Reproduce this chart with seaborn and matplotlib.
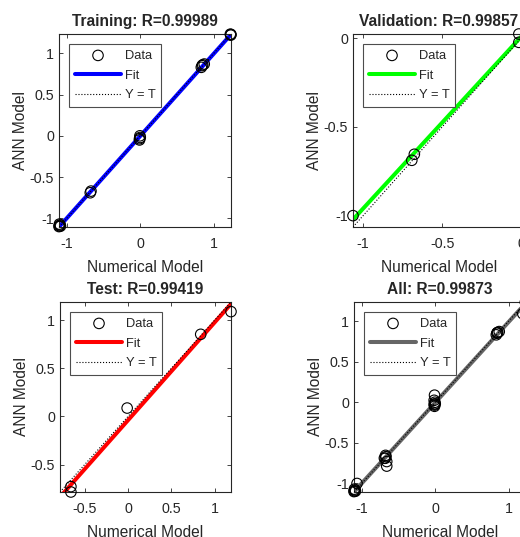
import numpy as np
import seaborn as sns
from matplotlib import pyplot as plt
from matplotlib.ticker import FormatStrFormatter

# numerical model (targets) and ANN model (outputs)
train_t = [-1.105, -1.10, -1.09, -1.10, -1.085, -0.68, -0.67, -0.01, 0.0, -0.005, -0.01,
           0.83, 0.85, 0.87, 0.84, 1.234, 1.225, 1.23]
train_y = [-1.10, -1.09, -1.08, -1.07, -1.095, -0.69, -0.67, -0.05, -0.02, 0.0, -0.035,
           0.83, 0.86, 0.87, 0.85, 1.228, 1.232, 1.22]
val_t = [-1.064, -0.676, -0.692, -0.015, -0.015]
val_y = [-1.0, -0.654, -0.688, 0.024, -0.023]
test_t = [-0.66, -0.66, -0.01, 0.84, 1.19]
test_y = [-0.73, -0.786, 0.087, 0.854, 1.09]
all_t = train_t + val_t + test_t
all_y = train_y + val_y + test_y

names = ['Training', 'Validation', 'Test', 'All']
r_values = ['0.99989', '0.99857', '0.99419', '0.99873']
fit_colors = ['#0000ff', '#00ff00', '#ff0000', '#666666']
xticks = [[-1, 0, 1], [-1, -0.5, 0], [-0.5, 0, 0.5, 1], [-1, 0, 1]]
yticks = [[-1, -0.5, 0, 0.5, 1], [-1, -0.5, 0], [-0.5, 0, 0.5, 1], [-1, -0.5, 0, 0.5, 1]]

sns.set_style("ticks")
plt.rcParams['font.family'] = ['Liberation Sans', 'DejaVu Sans']
plt.rcParams['axes.unicode_minus'] = False

W, H = 520, 537
fig = plt.figure(figsize=(W / 100, H / 100), dpi=100, facecolor='white')

# axes boxes in pixels: left, top, width, height (right column runs past the crop)
boxes = [(59, 34, 172, 193), (353, 34, 172, 193), (60, 302, 171, 190), (354, 302, 172, 190)]
data = [(train_t, train_y), (val_t, val_y), (test_t, test_y), (all_t, all_y)]


def regpanel(ax, t, y, name, r, color, xt, yt):
    t = np.array(t)
    y = np.array(y)
    lim = [min(t.min(), y.min()), max(t.max(), y.max())]
    ax.set_xlim(lim)
    ax.set_ylim(lim)
    sns.scatterplot(x=t, y=y, ax=ax, marker='o', s=57, facecolor='none',
                    edgecolor='black', linewidth=0.8, label='Data', zorder=3,
                    clip_on=False)
    sns.regplot(x=t, y=y, ax=ax, scatter=False, ci=None, truncate=False,
                color=color, label='Fit', line_kws=dict(lw=2.9, zorder=2))
    ax.plot(lim, lim, ':', color='black', lw=0.8, label='Y = T', zorder=4)
    ax.set_xlim(lim)
    ax.set_ylim(lim)

    ax.set_xticks(xt)
    ax.set_yticks(yt)
    ax.xaxis.set_major_formatter(FormatStrFormatter('%g'))
    ax.yaxis.set_major_formatter(FormatStrFormatter('%g'))
    ax.tick_params(direction='in', length=3, width=0.6, top=True, right=True,
                   labelsize=10.3, colors='#262626')
    ax.tick_params(axis='x', pad=7.5)
    ax.tick_params(axis='y', pad=3.5)
    for sp in ax.spines.values():
        sp.set_color('#262626')
        sp.set_linewidth(0.8)

    ax.set_xlabel('Numerical Model', fontsize=11.2, color='#262626', labelpad=6)
    ax.set_ylabel('ANN Model', fontsize=11.2, color='#262626', labelpad=1.5)
    ax.set_title(name + ': R=' + r, fontsize=11.2, fontweight='bold', pad=5.5)

    handles, labels = ax.get_legend_handles_labels()
    order = [labels.index(k) for k in ['Data', 'Fit', 'Y = T']]
    leg = ax.legend([handles[i] for i in order], [labels[i] for i in order],
                    loc='upper left', fontsize=9.3, frameon=True, fancybox=False,
                    borderpad=0.42, labelspacing=0.6, handlelength=3.6,
                    handletextpad=0.3, borderaxespad=0.8, framealpha=1)
    leg.get_frame().set_edgecolor('#4d4d4d')
    leg.get_frame().set_linewidth(0.8)


for i in range(4):
    l, tp, w, h = boxes[i]
    ax = fig.add_axes([l / W, 1 - (tp + h) / H, w / W, h / H])
    regpanel(ax, data[i][0], data[i][1], names[i], r_values[i], fit_colors[i],
             xticks[i], yticks[i])

fig.savefig('out.png', dpi=100, facecolor='white')
